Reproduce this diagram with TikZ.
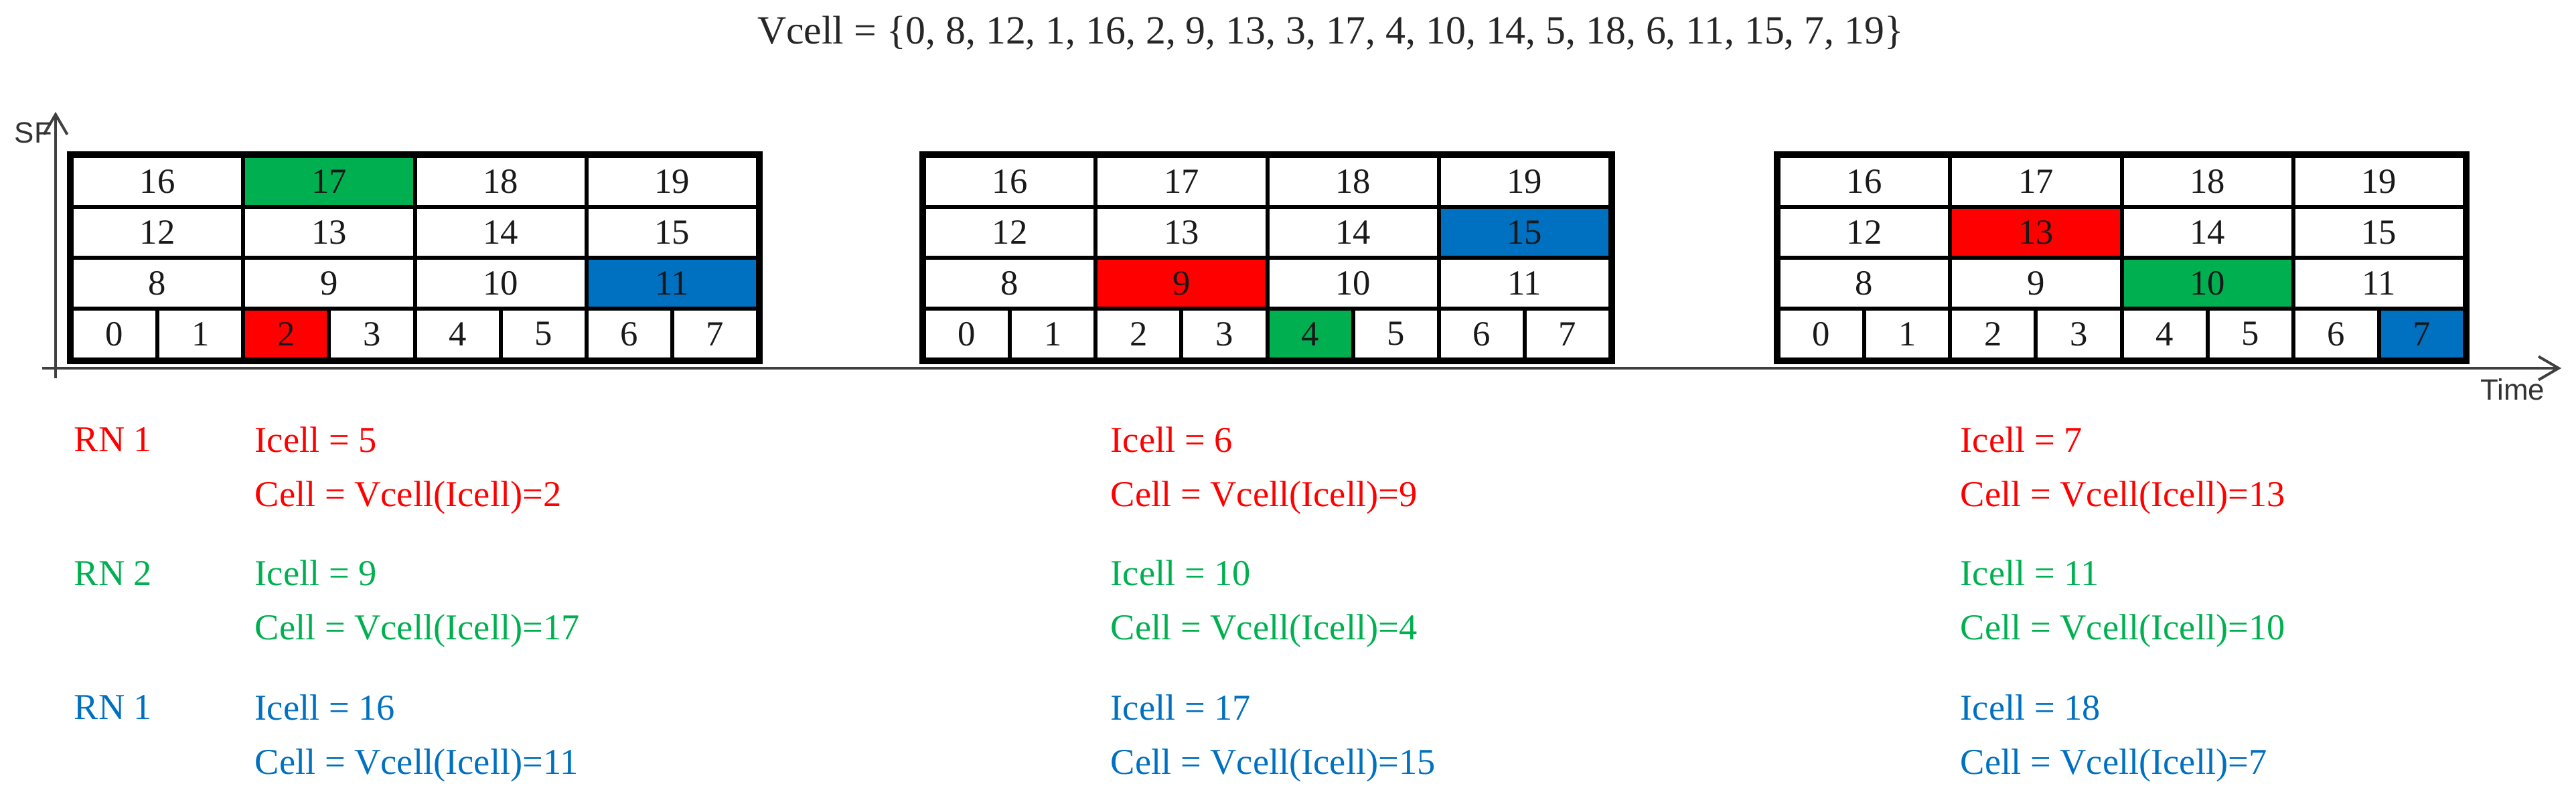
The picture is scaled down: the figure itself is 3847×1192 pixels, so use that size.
\documentclass[tikz,border=0pt]{standalone}
\usepackage{fontspec}
\setmainfont{Liberation Serif}
\newfontfamily\axisfont{Liberation Sans}
\usetikzlibrary{arrows.meta}
\definecolor{cred}{RGB}{255,0,0}
\definecolor{cgreen}{RGB}{0,176,80}
\definecolor{cblue}{RGB}{0,112,192}
\tikzset{
  cell/.style={draw=black, line width=0.6mm, minimum height=7.6mm, inner sep=0pt,
    font=\fontsize{15}{15}\selectfont, text=black!90},
  gridframe/.style={draw=black, line width=0.8mm},
  axisline/.style={line width=0.4mm, draw=black!75},
  axislabel/.style={font=\axisfont\fontsize{12.5}{12.5}\selectfont, text=black!80, inner sep=0pt},
  info/.style={anchor=west, inner sep=0pt, font=\fontsize{15.5}{15.5}\selectfont},
  titletext/.style={inner sep=0pt, font=\fontsize{17}{17}\selectfont, text=black!85}
}
\begin{document}
\begin{tikzpicture}[x=0.1mm,y=-0.1mm]
\useasboundingbox (0,0) rectangle (3847,1192);

% title
\node[titletext] (title) at (1987,49) {Vcell = \{0, 8, 12, 1, 16, 2, 9, 13, 3, 17, 4, 10, 14, 5, 18, 6, 11, 15, 7, 19\}};

% axes
\coordinate (yb) at (83,565);
\coordinate (yt) at (83,167);
\coordinate (xl) at (63,550);
\coordinate (xr) at (3825,550);
\draw[axisline, -{Straight Barb[length=3mm,width=3.5mm]}] (yb) -- (yt);
\draw[axisline, -{Straight Barb[length=3mm,width=3.5mm]}] (xl) -- (xr);
\node[axislabel] (sf) at (50,198) {SF};
\node[axislabel] (time) at (3752,582) {Time};

% grids
\foreach \g/\L/\R/\G/\B in {1/107/2/17/11, 2/1380/9/4/15, 3/2656/13/10/7} {
  \foreach \n in {0,...,19} {
    \def\fillc{white}
    \ifnum\n=\R\def\fillc{cred}\fi
    \ifnum\n=\G\def\fillc{cgreen}\fi
    \ifnum\n=\B\def\fillc{cblue}\fi
    \ifnum\n<8
      \pgfmathsetmacro\cx{\L+(\n+0.5)*1025/8}
      \pgfmathsetmacro\cy{233+3.5*76}
      \def\cw{12.8125mm}
    \else
      \pgfmathtruncatemacro\row{2-int((\n-8)/4)}
      \pgfmathtruncatemacro\col{mod(\n-8,4)}
      \pgfmathsetmacro\cx{\L+(\col+0.5)*1025/4}
      \pgfmathsetmacro\cy{233+(\row+0.5)*76}
      \def\cw{25.625mm}
    \fi
    \node[cell, fill=\fillc, minimum width=\cw] (g\g c\n) at (\cx,\cy) {\n};
  }
  \draw[gridframe] (g\g c16.north west) rectangle (g\g c7.south east);
}

% info texts
\node[info, text=cred] (rn1) at (110,657) {RN 1};
\node[info, text=cgreen] (rn2) at (110,856) {RN 2};
\node[info, text=cblue] (rn3) at (110,1057) {RN 1};

\node[info, text=cred] (a1) at (380,657) {Icell = 5};
\node[info, text=cred] (b1) at (380,743) {Cell = Vcell(Icell)=2};
\node[info, text=cgreen] (c1) at (380,856) {Icell = 9};
\node[info, text=cgreen] (d1) at (380,942) {Cell = Vcell(Icell)=17};
\node[info, text=cblue] (e1) at (380,1057) {Icell = 16};
\node[info, text=cblue] (f1) at (380,1143) {Cell = Vcell(Icell)=11};

\node[info, text=cred] (a2) at (1658,657) {Icell = 6};
\node[info, text=cred] (b2) at (1658,743) {Cell = Vcell(Icell)=9};
\node[info, text=cgreen] (c2) at (1658,856) {Icell = 10};
\node[info, text=cgreen] (d2) at (1658,942) {Cell = Vcell(Icell)=4};
\node[info, text=cblue] (e2) at (1658,1057) {Icell = 17};
\node[info, text=cblue] (f2) at (1658,1143) {Cell = Vcell(Icell)=15};

\node[info, text=cred] (a3) at (2927,657) {Icell = 7};
\node[info, text=cred] (b3) at (2927,743) {Cell = Vcell(Icell)=13};
\node[info, text=cgreen] (c3) at (2927,856) {Icell = 11};
\node[info, text=cgreen] (d3) at (2927,942) {Cell = Vcell(Icell)=10};
\node[info, text=cblue] (e3) at (2927,1057) {Icell = 18};
\node[info, text=cblue] (f3) at (2927,1143) {Cell = Vcell(Icell)=7};
\end{tikzpicture}
\end{document}
